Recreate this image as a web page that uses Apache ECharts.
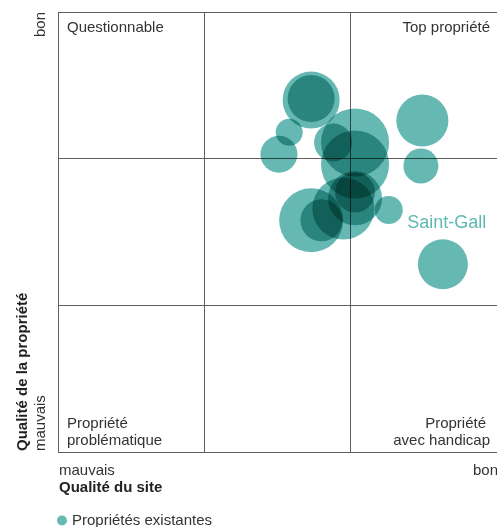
<!DOCTYPE html>
<html>
<head>
<meta charset="utf-8">
<style>
  html, body { margin: 0; padding: 0; background: #fff; }
  #chart { width: 497px; height: 527px; }
</style>
<script src="https://cdn.jsdelivr.net/npm/echarts@6/dist/echarts.min.js"></script>
</head>
<body>
<div id="chart"></div>
<script>
// Portfolio matrix: site quality (x) vs. property quality (y), bubble area = property value
const siteQuality     = [1.73, 1.73, 1.58, 1.51, 1.88, 2.03, 2.03, 1.73, 1.80, 1.95, 2.03, 2.03, 2.26, 2.49, 2.48, 2.63];
const propertyQuality = [2.40, 2.41, 2.18, 2.03, 2.11, 2.11, 1.96, 1.58, 1.58, 1.66, 1.73, 1.77, 1.65, 2.26, 1.95, 1.28];
const propertyValue   = [50.8, 34.5, 11.4, 21.4, 22.6, 72.3, 72.3, 64.0, 27.6, 60.1, 45.6, 25.0, 12.3, 42.3, 19.1, 39.1];
const propertyNames   = ['', '', '', '', '', '', '', '', '', '', '', '', '', '', '', 'Saint-Gall'];

const seriesName = 'Propriétés existantes';
const quadrantTicks = [0, 1, 2, 3];

const FONT = '"Liberation Sans", Arial, Helvetica, sans-serif';
const TEXT = '#333';
const TEAL = '#66b8b3';
const SIZE = 15;

const points = siteQuality.map((x, i) => ({
  value: [x, propertyQuality[i], propertyValue[i]],
  name: propertyNames[i],
  label: propertyNames[i] ? { show: true } : { show: false }
}));

const chart = echarts.init(document.getElementById('chart'), null, { renderer: 'canvas' });

function txt(x, y, text, opts) {
  return Object.assign({
    type: 'text', x: x, y: y, silent: true,
    style: Object.assign({
      text: text, fill: TEXT, font: SIZE + 'px ' + FONT,
      align: 'left', verticalAlign: 'middle'
    }, (opts && opts.style) || {})
  }, opts && opts.rotation ? { rotation: opts.rotation } : {});
}

chart.setOption({
  backgroundColor: '#fff',
  animation: false,
  grid: { left: 58, right: 0, top: 12, bottom: 75 },
  xAxis: {
    type: 'value', min: quadrantTicks[0], max: quadrantTicks[quadrantTicks.length - 1], interval: 1,
    axisLine: { show: false }, axisTick: { show: false }, axisLabel: { show: false },
    splitLine: { show: true, showMinLine: true, showMaxLine: false, lineStyle: { color: '#5e5e5e', width: 1 } }
  },
  yAxis: {
    type: 'value', min: quadrantTicks[0], max: quadrantTicks[quadrantTicks.length - 1], interval: 1,
    axisLine: { show: false }, axisTick: { show: false }, axisLabel: { show: false },
    splitLine: { show: true, showMinLine: true, showMaxLine: true, lineStyle: { color: '#5e5e5e', width: 1 } }
  },
  legend: {
    left: 57, top: 513, padding: 0, icon: 'circle', itemWidth: 10, itemHeight: 10, itemGap: 10,
    textStyle: { fontFamily: FONT, fontSize: SIZE, color: TEXT },
    data: [seriesName]
  },
  series: [{
    name: seriesName,
    type: 'scatter',
    blendMode: 'multiply',
    data: points,
    symbol: 'circle',
    symbolSize: d => Math.sqrt(d[2]) * 8,
    itemStyle: { color: TEAL, opacity: 1 },
    label: {
      position: 'top', distance: 7, offset: [4, 0],
      formatter: p => p.name,
      color: '#5fb8b2', fontFamily: FONT, fontSize: 18
    },
    emphasis: { disabled: true }
  }],
  graphic: [
    txt(67, 28, 'Questionnable'),
    txt(490, 28, 'Top propriété', { style: { align: 'right' } }),
    txt(67, 424, 'Propriété'),
    txt(67, 441, 'problématique'),
    txt(486, 424, 'Propriété', { style: { align: 'right' } }),
    txt(490, 441, 'avec handicap', { style: { align: 'right' } }),
    txt(59, 471, 'mauvais'),
    txt(59, 488, 'Qualité du site', { style: { font: 'bold ' + SIZE + 'px ' + FONT, fill: '#222' } }),
    txt(498, 471, 'bon', { style: { align: 'right' } }),
    txt(41, 12, 'bon', { rotation: Math.PI / 2, style: { align: 'right' } }),
    txt(41, 451, 'mauvais', { rotation: Math.PI / 2 }),
    txt(23, 451, 'Qualité de la propriété', { rotation: Math.PI / 2, style: { font: 'bold ' + SIZE + 'px ' + FONT, fill: '#222' } })
  ]
});
</script>
</body>
</html>
